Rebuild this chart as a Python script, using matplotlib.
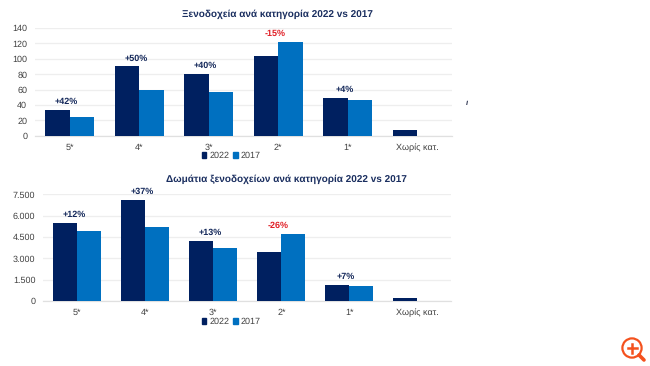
import matplotlib
matplotlib.use("Agg")
import matplotlib.pyplot as plt
from matplotlib.patches import Circle, Rectangle
from matplotlib.lines import Line2D
import numpy as np

plt.rcParams['font.family'] = ['Liberation Sans', 'DejaVu Sans']
plt.rcParams['text.hinting'] = 'no_hinting'
plt.rcParams['text.hinting_factor'] = 1

W, H = 650, 366
NAVY, BLUE = '#002060', '#0070c0'
TEXT = '#404040'

categories = ['5*', '4*', '3*', '2*', '1*', 'Χωρίς κατ.']
series_names = ['2022', '2017']

hotels_title = 'Ξενοδοχεία ανά κατηγορία 2022 vs 2017'
hotels_2022 = [34, 90, 80, 104, 49, 7]
hotels_2017 = [24, 60, 57, 122, 47, 0]
hotels_change = ['+42%', '+50%', '+40%', '-15%', '+4%']
hotels_ticks = [0, 20, 40, 60, 80, 100, 120, 140]
hotels_ticklabels = ['0', '20', '40', '60', '80', '100', '120', '140']

rooms_title = 'Δωμάτια ξενοδοχείων ανά κατηγορία 2022 vs 2017'
rooms_2022 = [5500, 7100, 4250, 3450, 1150, 200]
rooms_2017 = [4900, 5200, 3750, 4700, 1050, 0]
rooms_change = ['+12%', '+37%', '+13%', '-26%', '+7%']
rooms_ticks = [0, 1500, 3000, 4500, 6000, 7500]
rooms_ticklabels = ['0', '1.500', '3.000', '4.500', '6.000', '7.500']

fig = plt.figure(figsize=(W / 100, H / 100), dpi=100, facecolor='white')


def make_axes(left, right, top, bottom):
    return fig.add_axes([left / W, 1 - bottom / H, (right - left) / W, (bottom - top) / H])


def panel(ax, title, title_xy, a, b, changes, ticks, ticklabels, legend_y):
    x = np.arange(len(categories))
    bw = 0.355
    ax.bar(x - bw / 2, a, bw, color=NAVY, zorder=3)
    ax.bar(x + bw / 2, b, bw, color=BLUE, zorder=3)
    ax.set_xlim(-0.5, len(categories) - 0.5)
    ax.set_ylim(0, ticks[-1])
    ax.set_yticks(ticks, ticklabels)
    ax.set_xticks(x, categories)
    ax.tick_params(axis='both', length=0, labelsize=6.5, labelcolor=TEXT)
    ax.tick_params(axis='x', pad=5.4)
    ax.tick_params(axis='y', pad=5.6)
    ax.grid(axis='y', color='#eeeeee', linewidth=0.9, zorder=0)
    for s in ['top', 'left', 'right']:
        ax.spines[s].set_visible(False)
    ax.spines['bottom'].set_color('#e0e0e0')
    ax.spines['bottom'].set_linewidth(0.9)
    for i, label in enumerate(changes):
        color = '#e02027' if label.startswith('-') else '#14285a'
        ax.annotate(label, (x[i], max(a[i], b[i])), xytext=(-2.5, 6.0),
                    textcoords='offset points', ha='center', va='center',
                    fontsize=6.5, fontweight='bold', color=color, clip_on=False)
    fig.text(title_xy[0] / W, 1 - title_xy[1] / H, title, ha='center', va='center',
             fontsize=7.55, fontweight='bold', color='#1b2f60')
    handles = [Rectangle((0, 0), 1, 1, color=NAVY), Rectangle((0, 0), 1, 1, color=BLUE)]
    fig.legend(handles, series_names, loc='center', bbox_to_anchor=(231 / W, 1 - legend_y / H),
               ncol=2, frameon=False, fontsize=6.5, labelcolor=TEXT, handlelength=0.55,
               handleheight=0.55, handletextpad=0.3, columnspacing=0.4, borderpad=0,
               borderaxespad=0)


panel(make_axes(35, 452, 28, 135.7), hotels_title, (277.7, 14), hotels_2022, hotels_2017,
      hotels_change, hotels_ticks, hotels_ticklabels, 156)
panel(make_axes(43.3, 451.3, 194.3, 301), rooms_title, (286, 179), rooms_2022, rooms_2017,
      rooms_change, rooms_ticks, rooms_ticklabels, 322)

# stray glyph at the right of the upper chart
fig.text(467 / W, 1 - 103 / H, 'ı', fontsize=6, fontstyle='italic', fontweight='bold',
         color='#333a55', ha='center', va='center')

# magnifier icon, drawn in pixel coordinates
ov = fig.add_axes([0, 0, 1, 1], facecolor='none')
ov.set_xlim(0, W)
ov.set_ylim(H, 0)
ov.axis('off')
ORANGE = '#f4511e'
ov.add_patch(Circle((632, 348), 9.6, fill=False, edgecolor=ORANGE, linewidth=1.6))
ov.add_line(Line2D([639, 644], [355, 360], color=ORANGE, linewidth=2.6, solid_capstyle='round'))
ov.add_line(Line2D([627.5, 636.5], [348, 348], color=ORANGE, linewidth=1.8))
ov.add_line(Line2D([632, 632], [343.5, 352.5], color=ORANGE, linewidth=1.8))

fig.savefig('out.png', dpi=100)
